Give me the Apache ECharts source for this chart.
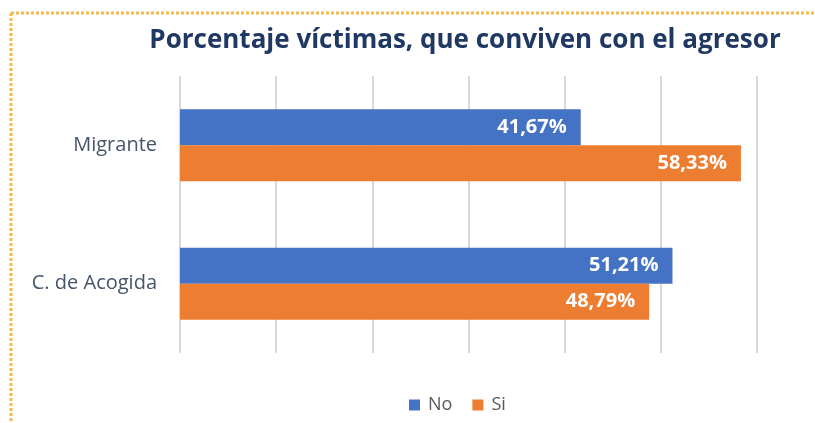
<!DOCTYPE html>
<html>
<head>
<meta charset="utf-8">
<script src="https://cdn.jsdelivr.net/npm/echarts@6/dist/echarts.min.js"></script>
<style>
  html, body { margin: 0; padding: 0; background: #fff; }
  #chart { width: 815px; height: 423px; }
</style>
</head>
<body>
<div id="chart"></div>
<script>
var categories = ['C. de Acogida', 'Migrante'];
var seriesNames = ['No', 'Si'];
var noValues = [51.21, 41.67];
var siValues = [48.79, 58.33];

var myChart = echarts.init(document.getElementById('chart'));

function pct(p) {
    return p.value.toFixed(2).replace('.', ',') + '%';
}

var barLabel = {
    show: true, position: 'insideRight', formatter: pct, color: '#fff',
    fontFamily: 'Open Sans', fontWeight: 'bold', fontSize: 20, distance: 14
};

var option = {
    backgroundColor: '#ffffff',
    animation: false,
    title: {
        text: 'Porcentaje víctimas, que conviven con el agresor',
        left: 460, top: 23, textAlign: 'center',
        textStyle: { fontFamily: 'Open Sans', fontWeight: 'bold', fontSize: 26, color: '#203864' }
    },
    legend: {
        data: seriesNames, bottom: 4, left: 404, icon: 'rect',
        itemWidth: 11, itemHeight: 11, itemGap: 20,
        textStyle: { fontFamily: 'Open Sans', fontSize: 18, color: '#595959', padding: [0, 0, 0, 3] }
    },
    grid: { left: 180, right: 58, top: 76, bottom: 70 },
    xAxis: {
        type: 'value', min: 0, max: 60, interval: 10,
        axisLabel: { show: false },
        axisTick: { show: false },
        axisLine: { show: false },
        splitLine: { lineStyle: { color: '#d9d9d9', width: 2 } }
    },
    yAxis: {
        type: 'category', data: categories,
        axisTick: { show: false },
        axisLine: { show: false },
        axisLabel: { fontFamily: 'Open Sans', fontSize: 20, color: '#44546a', margin: 23 }
    },
    series: [
        {
            name: 'No', type: 'bar', data: noValues, barGap: '0%', barCategoryGap: '48%',
            itemStyle: { color: '#4472c4' }, label: barLabel
        },
        {
            name: 'Si', type: 'bar', data: siValues,
            itemStyle: { color: '#ed7d31' }, label: barLabel
        }
    ],
    graphic: [
        { type: 'line', silent: true, shape: { x1: 11, y1: 13, x2: 815, y2: 13 },
          style: { stroke: '#fbb64a', lineWidth: 3, lineDash: [3, 2] } },
        { type: 'line', silent: true, shape: { x1: 11, y1: 13, x2: 11, y2: 423 },
          style: { stroke: '#fbb64a', lineWidth: 3, lineDash: [3, 2] } }
    ]
};

myChart.setOption(option, true);
</script>
</body>
</html>
